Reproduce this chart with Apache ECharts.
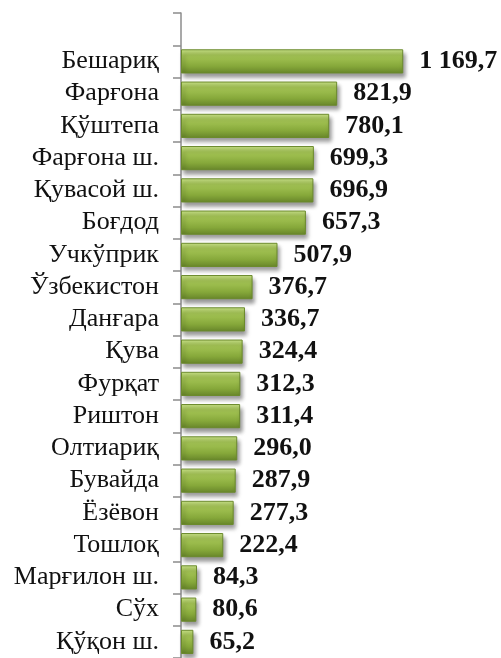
<!DOCTYPE html>
<html lang="uz">

<head>
    <meta charset="UTF-8">
    <title>echarts demo</title>
    <script src="https://cdn.jsdelivr.net/npm/echarts@6.0.0/dist/echarts.min.js"></script>
    <style>
        html, body { margin: 0; padding: 0; background: #fff; }
        #chart { width: 501px; height: 658px; }
    </style>
</head>

<body>
    <div id="chart"></div>
    <script>
        // first slot is empty in the original chart
        const districts = ['', 'Бешариқ', 'Фарғона', 'Қўштепа', 'Фарғона ш.', 'Қувасой ш.', 'Боғдод', 'Учкўприк', 'Ўзбекистон', 'Данғара', 'Қува', 'Фурқат', 'Риштон', 'Олтиариқ', 'Бувайда', 'Ёзёвон', 'Тошлоқ', 'Марғилон ш.', 'Сўх', 'Қўқон ш.'];
        const values = [null, 1169.7, 821.9, 780.1, 699.3, 696.9, 657.3, 507.9, 376.7, 336.7, 324.4, 312.3, 311.4, 296.0, 287.9, 277.3, 222.4, 84.3, 80.6, 65.2];

        function fmt(v) {
            let s = v.toFixed(1).replace('.', ',');
            let parts = s.split(',');
            let intPart = parts[0].replace(/\B(?=(\d{3})+(?!\d))/g, ' ');
            return intPart + ',' + parts[1];
        }

        let option = {
            animation: false,
            grid: { left: 181, top: 13, width: 304, height: 648 },
            xAxis: {
                type: 'value', min: 0, max: 1600, show: false
            },
            yAxis: {
                type: 'category', inverse: true, data: districts,
                axisLine: { show: true, lineStyle: { color: '#8c8c8c', width: 1.5 } },
                axisTick: { show: true, length: 8, interval: 0, lineStyle: { color: '#8c8c8c', width: 1.5 } },
                axisLabel: {
                    interval: 0, margin: 22, color: '#111',
                    fontFamily: 'Liberation Serif', fontSize: 26
                }
            },
            series: [{
                type: 'bar', data: values, barCategoryGap: '25%',
                itemStyle: {
                    color: {
                        type: 'linear', x: 0, y: 0, x2: 0, y2: 1,
                        colorStops: [
                            { offset: 0, color: '#c9e289' },
                            { offset: 0.25, color: '#a6c656' },
                            { offset: 0.7, color: '#86a83a' },
                            { offset: 1, color: '#67852a' }
                        ]
                    },
                    borderColor: '#6b8a2c', borderWidth: 1,
                    shadowColor: 'rgba(0,0,0,0.4)', shadowBlur: 4, shadowOffsetX: 2, shadowOffsetY: 4
                },
                label: {
                    show: true, position: 'right', distance: 16,
                    color: '#111', fontWeight: 'bold', fontSize: 26,
                    fontFamily: 'Liberation Serif',
                    formatter: function (p) { return fmt(p.value); }
                }
            }]
        };

        let myChart = echarts.init(document.getElementById('chart'));
        myChart.setOption(option);
    </script>
</body>

</html>
